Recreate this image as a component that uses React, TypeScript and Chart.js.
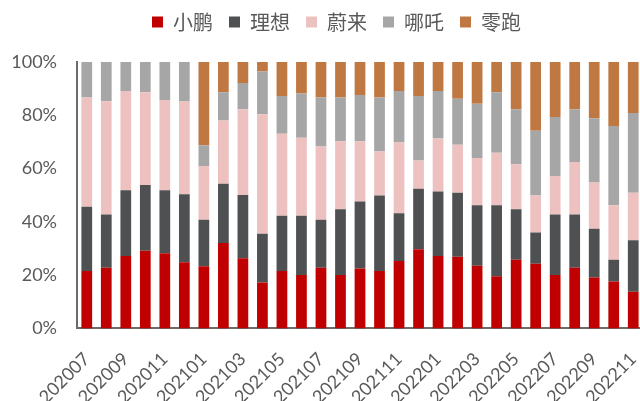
import React, { useEffect, useRef } from "react";
import { Chart, registerables } from "chart.js";

Chart.register(...registerables);

const months = [
  "202007", "202008", "202009", "202010", "202011", "202012",
  "202101", "202102", "202103", "202104", "202105", "202106",
  "202107", "202108", "202109", "202110", "202111", "202112",
  "202201", "202202", "202203", "202204", "202205", "202206",
  "202207", "202208", "202209", "202210", "202211",
];

const xpeng = [21.6, 22.8, 27.2, 29.2, 28.2, 24.8, 23.3, 32.1, 26.3, 17.2, 21.6, 20.1, 22.8, 20.1, 22.5, 21.6, 25.3, 29.7, 27.2, 26.9, 23.5, 19.6, 25.8, 24.3, 20.1, 22.8, 19.1, 17.6, 13.8];
const liAuto = [24.1, 20.0, 24.7, 24.6, 23.7, 25.6, 17.5, 22.2, 23.8, 18.3, 20.7, 22.2, 18.0, 24.6, 25.1, 28.3, 17.9, 22.7, 24.2, 24.0, 22.7, 26.6, 18.9, 11.7, 22.7, 20.0, 18.3, 8.2, 19.3];
const nio = [41.0, 42.5, 37.2, 34.8, 33.8, 34.8, 20.2, 23.7, 32.2, 44.9, 30.8, 29.3, 27.5, 25.6, 22.7, 16.5, 26.6, 10.6, 19.9, 18.0, 17.8, 19.7, 16.9, 13.9, 14.4, 19.7, 17.4, 20.4, 17.8];
const neta = [13.3, 14.7, 10.9, 11.4, 14.3, 14.8, 7.8, 10.6, 9.8, 16.0, 14.1, 16.6, 18.4, 16.4, 17.3, 20.3, 19.3, 24.2, 17.8, 17.3, 20.3, 22.7, 20.7, 24.3, 22.2, 19.8, 24.1, 29.8, 30.0];
const leapmotor = [0, 0, 0, 0, 0, 0, 31.2, 11.4, 7.9, 3.6, 12.8, 11.8, 13.3, 13.3, 12.4, 13.3, 10.9, 12.8, 10.9, 13.8, 15.7, 11.4, 17.7, 25.8, 20.6, 17.7, 21.1, 24.0, 19.1];

const seriesNames = ["小鹏", "理想", "蔚来", "哪吒", "零跑"];
const seriesColors = ["#C00000", "#4E5052", "#EEC1C1", "#A6A6A6", "#C07843"];
const yTicks = [0, 20, 40, 60, 80, 100];

const legendShift = {
  id: "legendShift",
  afterLayout(chart: any) {
    const lg = chart.legend;
    if (!lg) return;
    lg.left += 15;
    lg.right += 15;
    lg.top -= 20;
    lg.bottom -= 20;
  },
};

export default function App() {
  const ref = useRef<HTMLCanvasElement | null>(null);

  useEffect(() => {
    if (!ref.current) return;
    const values = [xpeng, liAuto, nio, neta, leapmotor];
    const chart = new Chart(ref.current, {
      type: "bar",
      data: {
        labels: months,
        datasets: values.map((v, i) => ({
          label: seriesNames[i],
          data: v,
          backgroundColor: seriesColors[i],
          borderWidth: 0,
          categoryPercentage: 1,
          barPercentage: 0.55,
        })),
      },
      plugins: [legendShift],
      options: {
        animation: false,
        responsive: false,
        layout: { padding: { left: 0, right: 3, top: 16, bottom: -19 } },
        plugins: {
          tooltip: { enabled: false },
          legend: {
            position: "top",
            labels: {
              boxWidth: 11,
              boxHeight: 11,
              padding: 16,
              color: "#595959",
              font: { family: "'Noto Sans CJK SC'", size: 20 },
            },
          },
        },
        scales: {
          x: {
            stacked: true,
            afterFit: (s: any) => {
              s.paddingLeft = 0;
              s.paddingRight = 0;
            },
            grid: { display: false },
            border: { display: true, color: "#6b6b6b", width: 2 },
            ticks: {
              autoSkip: false,
              maxRotation: 45,
              minRotation: 45,
              color: "#595959",
              padding: 12,
              font: { family: "Lato", size: 18 },
              callback: (_v, i) => (i % 2 === 0 ? months[i] : ""),
            },
          },
          y: {
            stacked: true,
            min: 0,
            max: 100,
            afterFit: (s: any) => {
              s.width = 77;
            },
            afterBuildTicks: (s: any) => {
              s.ticks = yTicks.map((v) => ({ value: v }));
            },
            grid: { display: false, drawTicks: false },
            border: { display: true, color: "#6b6b6b", width: 2 },
            ticks: {
              color: "#595959",
              padding: 20,
              font: { family: "Lato", size: 18 },
              callback: (v) => `${v}%`,
            },
          },
        },
      },
    });
    return () => chart.destroy();
  }, []);

  return (
    <div style={{ position: "fixed", left: 0, top: 0, width: 640, height: 401, overflow: "hidden", background: "#fff" }}>
      <canvas ref={ref} width={646} height={401} style={{ display: "block" }} />
    </div>
  );
}
